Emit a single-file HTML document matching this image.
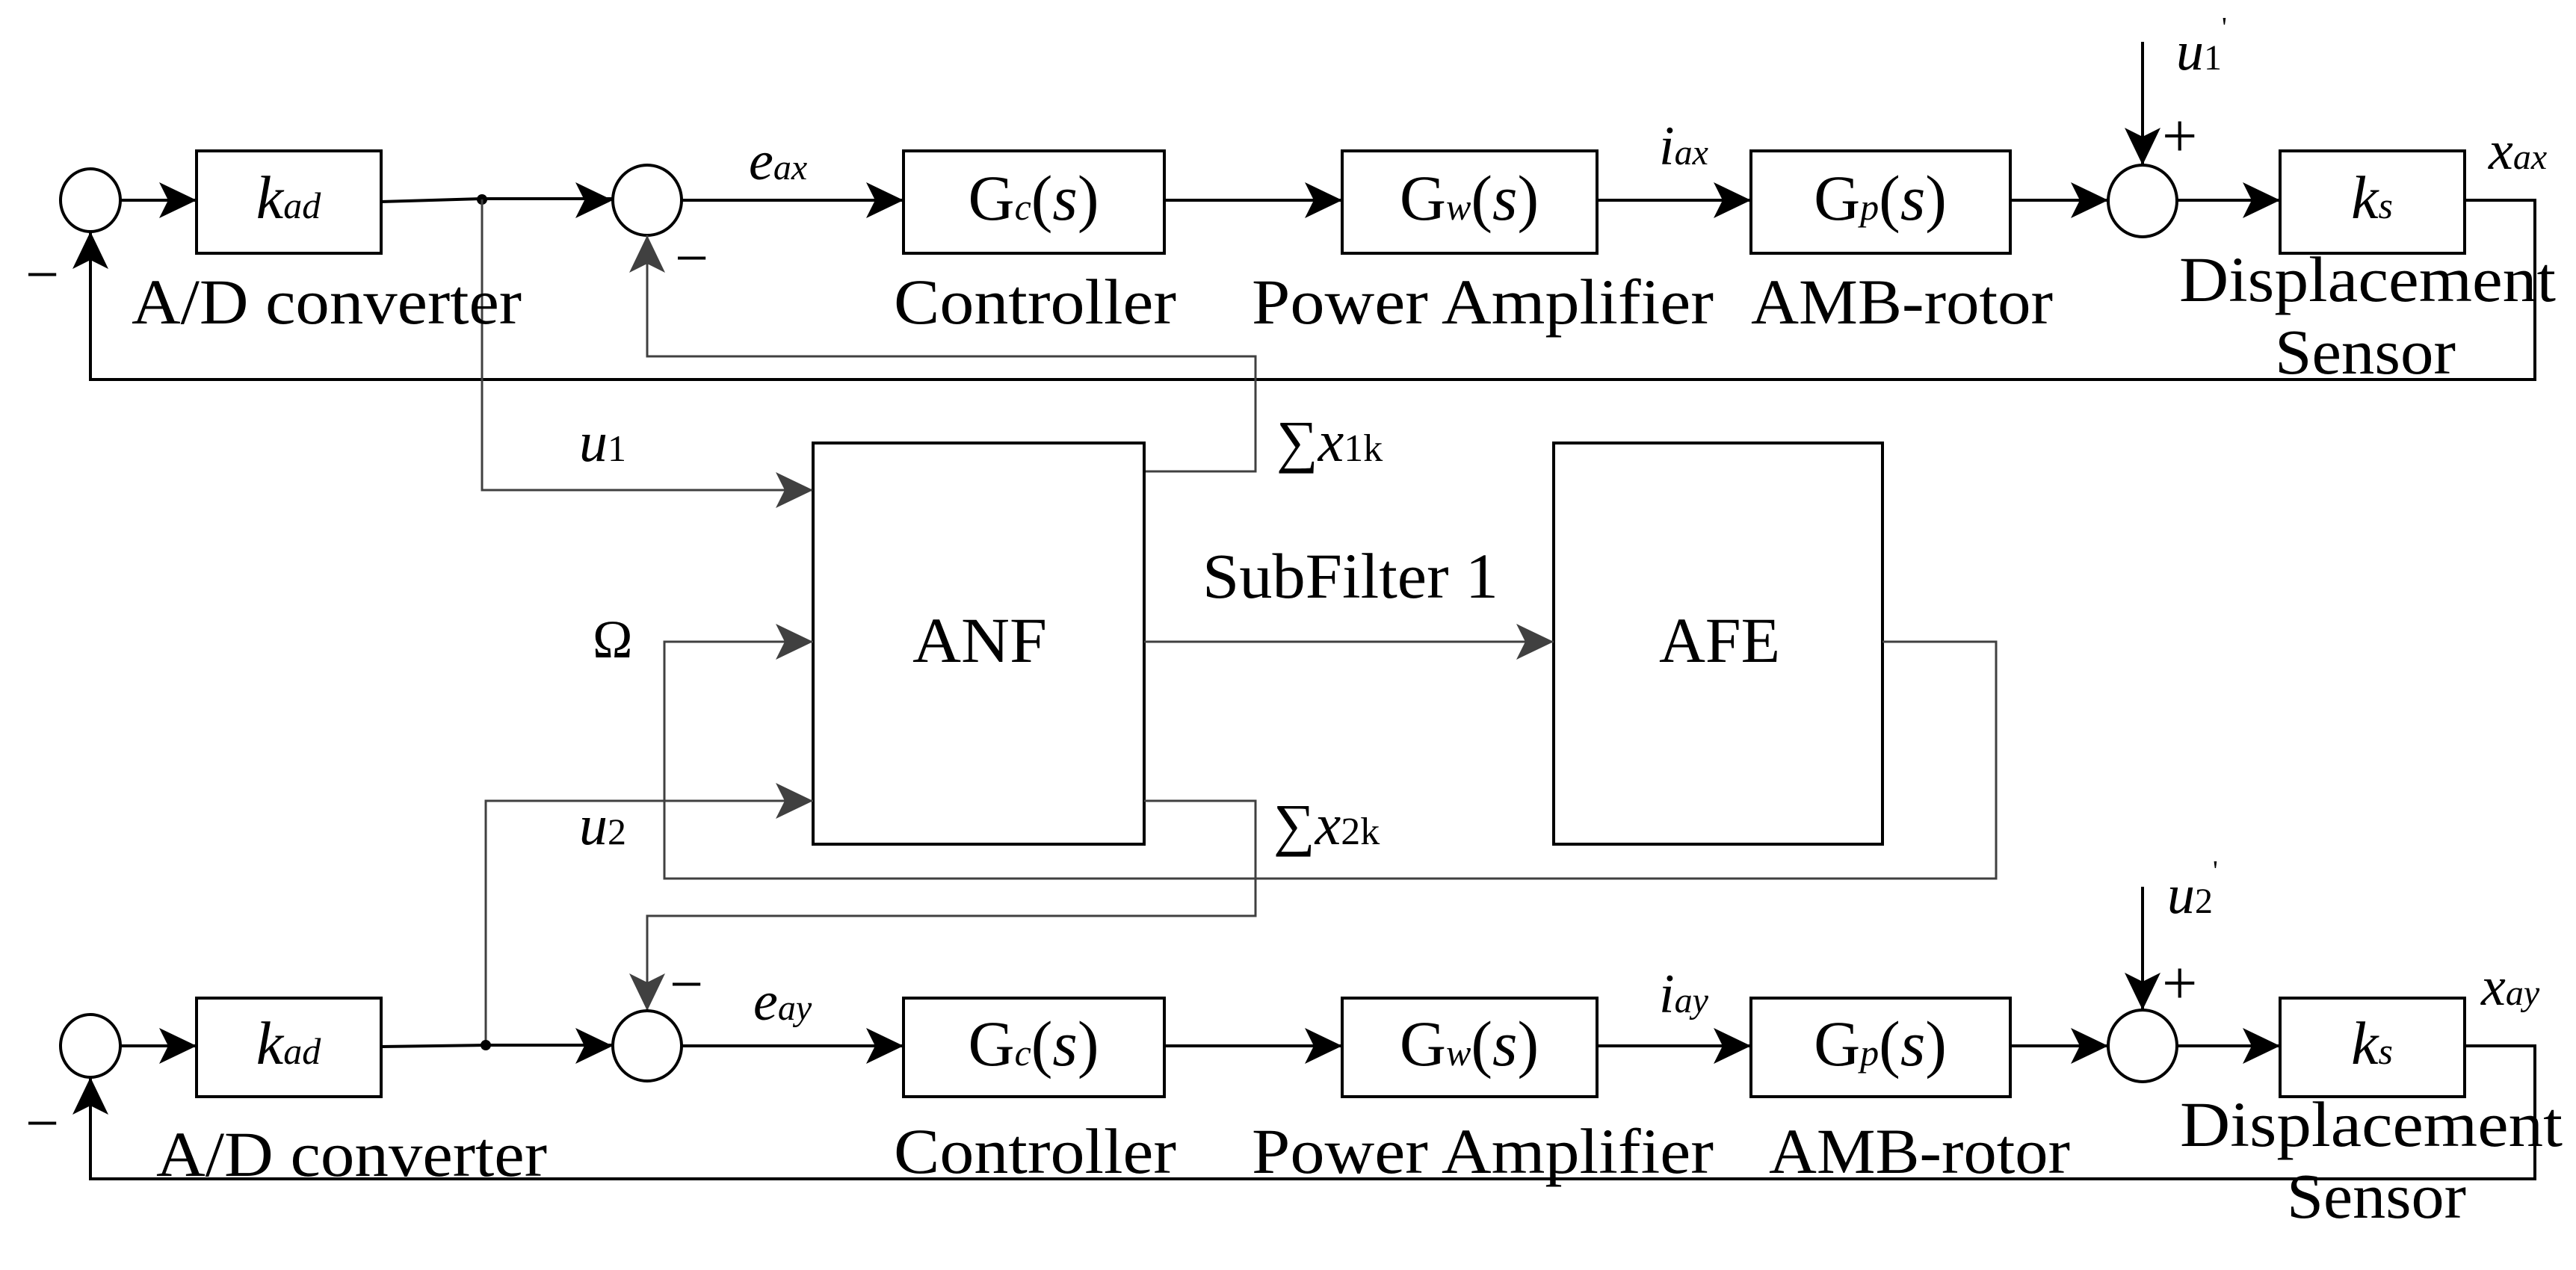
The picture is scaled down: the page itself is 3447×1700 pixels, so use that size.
<!DOCTYPE html>
<html><head><meta charset="utf-8"><style>
html,body{margin:0;padding:0;background:#fff;}
svg{display:block;}
text{font-family:"Liberation Serif",serif;fill:#000;}
.it{font-style:italic;}
</style></head><body>
<svg width="3447" height="1700" viewBox="0 0 3447 1700" xmlns="http://www.w3.org/2000/svg">
<defs>
<path id="ar" d="M0 0 L-50 -24 L-38 0 L-50 24Z" fill="#000"/>
<path id="ag" d="M0 0 L-50 -24 L-38 0 L-50 24Z" fill="#404040"/>
</defs>
<rect width="3447" height="1700" fill="#fff"/>

<!-- ============ TOP ROW ============ -->
<g stroke="#000" stroke-width="4" fill="none">
<ellipse cx="121" cy="268" rx="40" ry="42"/>
<rect x="263" y="202" width="247" height="137"/>
<ellipse cx="866" cy="268" rx="46" ry="47"/>
<rect x="1209" y="202" width="349" height="137"/>
<rect x="1796" y="202" width="341" height="137"/>
<rect x="2343" y="202" width="347" height="137"/>
<ellipse cx="2867" cy="269" rx="46" ry="48"/>
<rect x="3051" y="202" width="247" height="137"/>
<path d="M161 268H263 M510 270L645 266H819 M912 268H1209 M1558 268H1796 M2137 268H2343 M2690 268H2821 M2913 268H3051 M3298 268H3392V508H121V310 M2867 56V221"/>
</g>
<circle cx="645" cy="267" r="7" fill="#000"/>
<g stroke="#404040" stroke-width="3" fill="none">
<path d="M1531 631H1680V477H866V315"/>
<path d="M645 267V656H1088"/>
</g>
<use href="#ar" transform="translate(263,268)"/>
<use href="#ar" transform="translate(820,268)"/>
<use href="#ar" transform="translate(1209,268)"/>
<use href="#ar" transform="translate(1796,268)"/>
<use href="#ar" transform="translate(2343,268)"/>
<use href="#ar" transform="translate(2821,268)"/>
<use href="#ar" transform="translate(3051,268)"/>
<use href="#ar" transform="translate(121,310) rotate(-90)"/>
<use href="#ag" transform="translate(866,315) rotate(-90)"/>
<use href="#ar" transform="translate(2867,221) rotate(90)"/>

<text x="386" y="292" font-size="82" text-anchor="middle"><tspan class="it">k</tspan><tspan class="it" font-size="50">ad</tspan></text>
<text x="1383" y="294" font-size="86" text-anchor="middle">G<tspan class="it" font-size="50">c</tspan>(<tspan class="it">s</tspan>)</text>
<text x="1966" y="294" font-size="86" text-anchor="middle">G<tspan class="it" font-size="50">w</tspan>(<tspan class="it">s</tspan>)</text>
<text x="2516" y="294" font-size="86" text-anchor="middle">G<tspan class="it" font-size="50">p</tspan>(<tspan class="it">s</tspan>)</text>
<text x="3174" y="292" font-size="82" text-anchor="middle"><tspan class="it">k</tspan><tspan class="it" font-size="50">s</tspan></text>

<text x="1002" y="240" font-size="74" class="it">e<tspan font-size="48">ax</tspan></text>
<text x="2220" y="220" font-size="74" class="it">i<tspan font-size="48">ax</tspan></text>
<text x="3330" y="226" font-size="74" class="it">x<tspan font-size="48">ax</tspan></text>
<text x="2912" y="93" font-size="74"><tspan class="it">u</tspan><tspan font-size="48">1</tspan><tspan font-size="38" dy="-44">'</tspan></text>
<text x="2893" y="210" font-size="84">+</text>
<text x="34" y="394" font-size="80">−</text>
<text x="903" y="372" font-size="80">−</text>

<text x="176" y="433" font-size="86" textLength="522" lengthAdjust="spacingAndGlyphs">A/D converter</text>
<text x="1196" y="433" font-size="86" textLength="378" lengthAdjust="spacingAndGlyphs">Controller</text>
<text x="1675" y="433" font-size="86" textLength="618" lengthAdjust="spacingAndGlyphs">Power Amplifier</text>
<text x="2343" y="433" font-size="86" textLength="404" lengthAdjust="spacingAndGlyphs">AMB-rotor</text>
<text x="2916" y="403" font-size="86" textLength="504" lengthAdjust="spacingAndGlyphs">Displacement</text>
<text x="3044" y="500" font-size="86" textLength="242" lengthAdjust="spacingAndGlyphs">Sensor</text>

<!-- ============ MIDDLE ============ -->
<g stroke="#000" stroke-width="4" fill="none">
<rect x="1088" y="593" width="443" height="537"/>
<rect x="2079" y="593" width="440" height="537"/>
</g>
<g stroke="#404040" stroke-width="3" fill="none">
<path d="M1531 859H2079"/>
<path d="M2519 859H2671V1176H889V859H1088"/>
<path d="M650 1399V1072H1088"/>
<path d="M1531 1072H1680V1226H866V1353"/>
</g>
<use href="#ag" transform="translate(1088,656)"/>
<use href="#ag" transform="translate(1088,859)"/>
<use href="#ag" transform="translate(1088,1072)"/>
<use href="#ag" transform="translate(2079,859)"/>
<use href="#ag" transform="translate(866,1353) rotate(90)"/>

<text x="1221" y="886" font-size="86" textLength="180" lengthAdjust="spacingAndGlyphs">ANF</text>
<text x="2220" y="886" font-size="86" textLength="162" lengthAdjust="spacingAndGlyphs">AFE</text>
<text x="1609" y="800" font-size="86" textLength="396" lengthAdjust="spacingAndGlyphs">SubFilter 1</text>
<text x="775" y="617" font-size="76"><tspan class="it">u</tspan><tspan font-size="50">1</tspan></text>
<text x="775" y="1130" font-size="76"><tspan class="it">u</tspan><tspan font-size="50">2</tspan></text>
<text x="793" y="880" font-size="72">Ω</text>
<text x="1708" y="617" font-size="78">∑<tspan class="it">x</tspan><tspan font-size="52">1k</tspan></text>
<text x="1704" y="1130" font-size="78">∑<tspan class="it">x</tspan><tspan font-size="52">2k</tspan></text>

<!-- ============ BOTTOM ROW ============ -->
<g stroke="#000" stroke-width="4" fill="none">
<ellipse cx="121" cy="1400" rx="40" ry="42"/>
<rect x="263" y="1336" width="247" height="132"/>
<ellipse cx="866" cy="1400" rx="46" ry="47"/>
<rect x="1209" y="1336" width="349" height="132"/>
<rect x="1796" y="1336" width="341" height="132"/>
<rect x="2343" y="1336" width="347" height="132"/>
<ellipse cx="2867" cy="1400" rx="46" ry="48"/>
<rect x="3051" y="1336" width="247" height="132"/>
<path d="M161 1400H263 M510 1401L650 1399H820 M912 1400H1209 M1558 1400H1796 M2137 1400H2343 M2690 1400H2821 M2913 1400H3051 M3298 1400H3392V1578H121V1442 M2867 1187V1352"/>
</g>
<circle cx="650" cy="1399" r="7" fill="#000"/>
<use href="#ar" transform="translate(263,1400)"/>
<use href="#ar" transform="translate(820,1400)"/>
<use href="#ar" transform="translate(1209,1400)"/>
<use href="#ar" transform="translate(1796,1400)"/>
<use href="#ar" transform="translate(2343,1400)"/>
<use href="#ar" transform="translate(2821,1400)"/>
<use href="#ar" transform="translate(3051,1400)"/>
<use href="#ar" transform="translate(121,1442) rotate(-90)"/>
<use href="#ar" transform="translate(2867,1352) rotate(90)"/>

<text x="386" y="1424" font-size="82" text-anchor="middle"><tspan class="it">k</tspan><tspan class="it" font-size="50">ad</tspan></text>
<text x="1383" y="1426" font-size="86" text-anchor="middle">G<tspan class="it" font-size="50">c</tspan>(<tspan class="it">s</tspan>)</text>
<text x="1966" y="1426" font-size="86" text-anchor="middle">G<tspan class="it" font-size="50">w</tspan>(<tspan class="it">s</tspan>)</text>
<text x="2516" y="1426" font-size="86" text-anchor="middle">G<tspan class="it" font-size="50">p</tspan>(<tspan class="it">s</tspan>)</text>
<text x="3174" y="1424" font-size="82" text-anchor="middle"><tspan class="it">k</tspan><tspan class="it" font-size="50">s</tspan></text>

<text x="1008" y="1365" font-size="74" class="it">e<tspan font-size="48">ay</tspan></text>
<text x="2220" y="1355" font-size="74" class="it">i<tspan font-size="48">ay</tspan></text>
<text x="3320" y="1345" font-size="74" class="it">x<tspan font-size="48">ay</tspan></text>
<text x="2900" y="1222" font-size="74"><tspan class="it">u</tspan><tspan font-size="48">2</tspan><tspan font-size="38" dy="-44">'</tspan></text>
<text x="2893" y="1344" font-size="84">+</text>
<text x="34" y="1530" font-size="80">−</text>
<text x="896" y="1344" font-size="80">−</text>

<text x="209" y="1574" font-size="86" textLength="523" lengthAdjust="spacingAndGlyphs">A/D converter</text>
<text x="1196" y="1570" font-size="86" textLength="378" lengthAdjust="spacingAndGlyphs">Controller</text>
<text x="1675" y="1570" font-size="86" textLength="618" lengthAdjust="spacingAndGlyphs">Power Amplifier</text>
<text x="2367" y="1570" font-size="86" textLength="403" lengthAdjust="spacingAndGlyphs">AMB-rotor</text>
<text x="2917" y="1534" font-size="86" textLength="512" lengthAdjust="spacingAndGlyphs">Displacement</text>
<text x="3060" y="1630" font-size="86" textLength="240" lengthAdjust="spacingAndGlyphs">Sensor</text>
</svg>
</body></html>
